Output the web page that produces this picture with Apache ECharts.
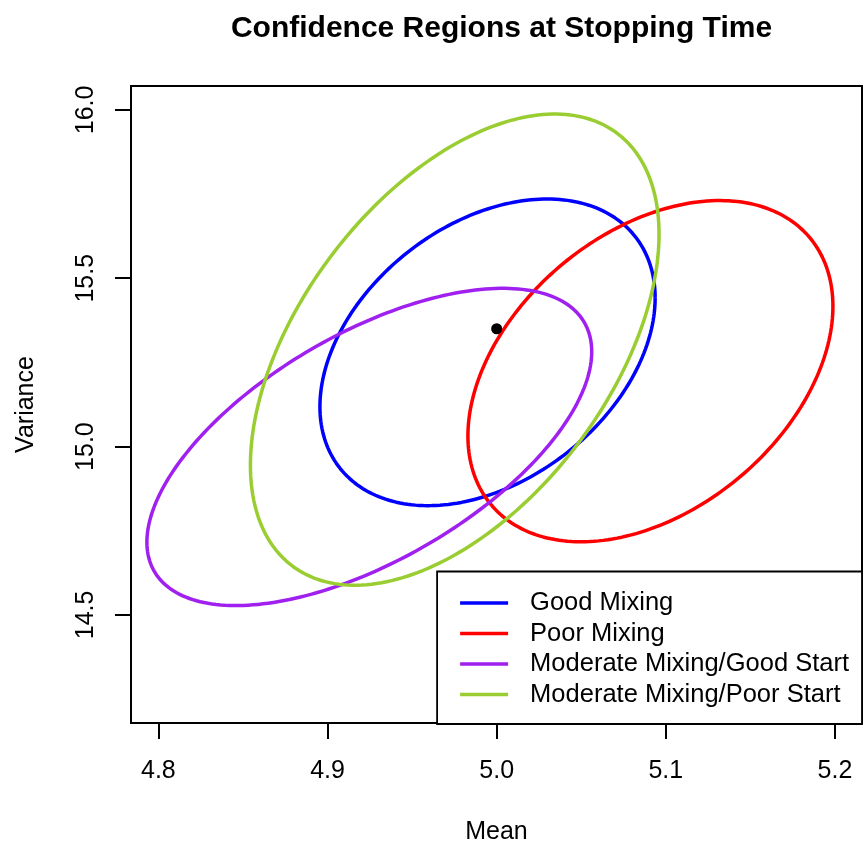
<!DOCTYPE html>
<html>
<head>
<meta charset="utf-8">
<title>Confidence Regions at Stopping Time</title>
<script src="https://cdn.jsdelivr.net/npm/echarts@6/dist/echarts.min.js"></script>
<style>
  html, body { margin: 0; padding: 0; background: #fff; }
  #chart { width: 865px; height: 850px; }
</style>
</head>
<body>
<div id="chart"></div>
<script>
// Joint confidence regions for (mean, variance) at the stopping time, one per sampler.
const seriesNames = ['Good Mixing', 'Poor Mixing', 'Moderate Mixing/Good Start', 'Moderate Mixing/Poor Start'];
const seriesColors = ['#0000FF', '#FF0000', '#A020F0', '#9ACD32'];

// Ellipse centre, half extents along each axis and correlation of each region
const centerMean = [4.9946, 5.0909, 4.9247, 4.9752];
const centerVariance = [15.280, 15.224, 14.999, 15.288];
const halfWidthMean = [0.0991, 0.1079, 0.1315, 0.1208];
const halfHeightVariance = [0.4554, 0.5067, 0.4711, 0.6997];
const correlation = [0.355, 0.38, 0.60, 0.49];

// True (mean, variance)
const truePoint = [5.0, 15.35];

// Axis ticks and ranges
const meanTicks = [4.8, 4.9, 5.0, 5.1, 5.2];
const varianceTicks = [14.5, 15.0, 15.5, 16.0];
const meanRange = [4.7838, 5.2160];
const varianceRange = [14.179, 16.071];

const FONT = '"Liberation Sans", Arial, Helvetica, sans-serif';

// Outline of a confidence ellipse, traced in data space and mapped through the axes
function ellipseItem(params, api) {
  const cx = api.value(0), cy = api.value(1);
  const hx = api.value(2), hy = api.value(3), rho = api.value(4);
  const s = Math.sqrt(1 - rho * rho);
  const pts = [];
  const n = 240;
  for (let k = 0; k <= n; k++) {
    const t = 2 * Math.PI * k / n;
    pts.push(api.coord([cx + hx * Math.cos(t), cy + hy * (rho * Math.cos(t) + s * Math.sin(t))]));
  }
  return {
    type: 'polyline',
    shape: { points: pts },
    style: { fill: null, stroke: api.visual('color'), lineWidth: 3.5, lineJoin: 'round' }
  };
}

const ellipseSeries = seriesNames.map((name, i) => ({
  type: 'custom',
  name: name,
  renderItem: ellipseItem,
  dimensions: ['mean', 'variance', 'hx', 'hy', 'rho'],
  encode: { x: 0, y: 1 },
  itemStyle: { color: seriesColors[i] },
  data: [[centerMean[i], centerVariance[i], halfWidthMean[i], halfHeightVariance[i], correlation[i]]],
  silent: true,
  animation: false
}));

const chart = echarts.init(document.getElementById('chart'), null, { renderer: 'canvas' });

chart.setOption({
  animation: false,
  backgroundColor: '#ffffff',
  textStyle: { fontFamily: FONT, color: '#000' },
  title: {
    text: 'Confidence Regions at Stopping Time',
    left: 496.5,
    top: 9,
    textAlign: 'center',
    textStyle: { fontFamily: FONT, fontSize: 30, fontWeight: 'bold', color: '#000' }
  },
  grid: {
    left: 131, top: 86, right: 3, bottom: 125,
    show: true, borderColor: '#000', borderWidth: 2, backgroundColor: 'transparent'
  },
  legend: {
    data: seriesNames,
    orient: 'vertical',
    right: 3,
    bottom: 126,
    icon: 'rect',
    itemWidth: 48,
    itemHeight: 3.5,
    itemGap: 4.5,
    padding: [18.5, 13, 16.5, 23],
    borderColor: '#000',
    borderWidth: 1.8,
    backgroundColor: '#fff',
    selectedMode: false,
    textStyle: { fontFamily: FONT, fontSize: 25.5, color: '#000', lineHeight: 25, padding: [0, 0, 0, 17] }
  },
  xAxis: {
    type: 'value',
    min: meanRange[0],
    max: meanRange[1],
    axisLine: { show: false },
    splitLine: { show: false },
    axisTick: { show: true, inside: false, length: 16, customValues: meanTicks, lineStyle: { color: '#000', width: 2 } },
    axisLabel: {
      customValues: meanTicks, formatter: v => v.toFixed(1),
      fontFamily: FONT, fontSize: 25, color: '#000', margin: 36
    },
    name: 'Mean',
    nameLocation: 'middle',
    nameGap: 97,
    nameTextStyle: { fontFamily: FONT, fontSize: 25, color: '#000' }
  },
  yAxis: {
    type: 'value',
    min: varianceRange[0],
    max: varianceRange[1],
    axisLine: { show: false },
    splitLine: { show: false },
    axisTick: { show: true, inside: false, length: 16, customValues: varianceTicks, lineStyle: { color: '#000', width: 2 } },
    axisLabel: {
      customValues: varianceTicks, formatter: v => v.toFixed(1), rotate: 90,
      fontFamily: FONT, fontSize: 25, color: '#000', margin: 32
    },
    name: 'Variance',
    nameLocation: 'middle',
    nameGap: 92,
    nameRotate: 90,
    nameTextStyle: { fontFamily: FONT, fontSize: 25, color: '#000' }
  },
  series: ellipseSeries.concat([{
    type: 'scatter',
    name: 'True value',
    data: [truePoint],
    symbol: 'circle',
    symbolSize: 11,
    itemStyle: { color: '#000', opacity: 1 },
    silent: true,
    z: 5
  }])
});
</script>
</body>
</html>
